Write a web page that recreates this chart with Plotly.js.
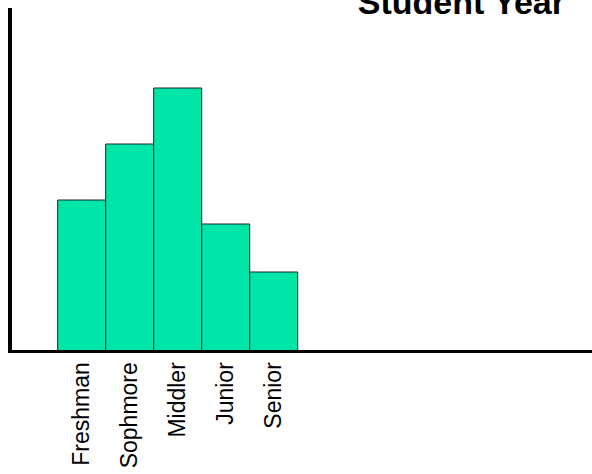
<!DOCTYPE html>
<html>
<head>
<meta charset="utf-8">
<script src="https://cdn.plot.ly/plotly-3.0.1.min.js"></script>
<style>html,body{margin:0;padding:0;background:#fff;}#chart{width:592px;height:474px;}</style>
</head>
<body>
<div id="chart"></div>
<script>
var categories = ["Freshman", "Sophmore", "Middler", "Junior", "Senior"];
var counts = [19, 26, 33, 16, 10];
var titleText = "Student Year";

var trace = {
  type: "bar",
  x: categories,
  y: counts,
  marker: {color: "#00E5A8", line: {color: "#222222", width: 1}},
  hoverinfo: "x+y"
};

var layout = {
  width: 592,
  height: 474,
  margin: {l: 12, r: 0, t: 8, b: 124, pad: 0},
  paper_bgcolor: "#ffffff",
  plot_bgcolor: "#ffffff",
  bargap: 0,
  showlegend: false,
  title: {
    text: "<b>" + titleText + "</b>",
    font: {family: "Liberation Sans, Arial, sans-serif", size: 34, color: "#000"},
    xref: "container", yref: "container",
    x: 565 / 592, xanchor: "right",
    y: 0.996, yanchor: "middle"
  },
  xaxis: {
    type: "category",
    range: [-1.452, 10.631],
    showline: true, linecolor: "#000", linewidth: 3,
    showgrid: false, zeroline: false,
    ticks: "", tickangle: -90,
    tickfont: {family: "Liberation Sans, Arial, sans-serif", size: 23, color: "#000"},
    fixedrange: true
  },
  yaxis: {
    range: [0.25, 43],
    showline: true, linecolor: "#000", linewidth: 4,
    showgrid: false, zeroline: false,
    showticklabels: false, ticks: "",
    fixedrange: true
  }
};

Plotly.newPlot("chart", [trace], layout, {displayModeBar: false, staticPlot: true});
</script>
</body>
</html>
